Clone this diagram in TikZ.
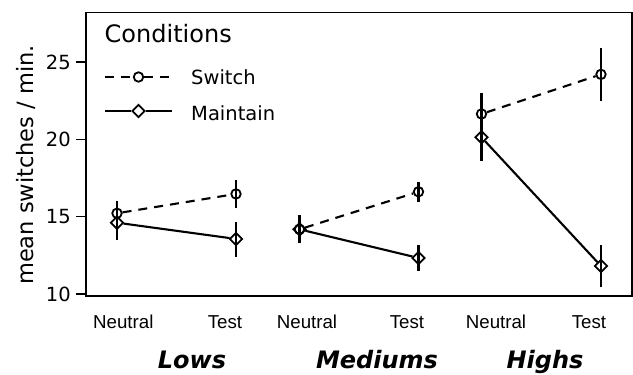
\documentclass[tikz,border=0pt]{standalone}
\usepackage{fontspec}
\usetikzlibrary{shapes.geometric}
\newfontfamily\dvsans{DejaVu Sans}
\newfontfamily\lbsans{Liberation Sans}
\tikzset{
  swmark/.style={circle,draw,line width=1.8pt,minimum size=9.5pt,inner sep=0pt},
  mtmark/.style={diamond,draw,line width=1.8pt,minimum width=13pt,minimum height=13pt,inner sep=0pt},
  errbar/.style={line width=2.3pt},
  swline/.style={line width=2.1pt,dash pattern=on 9pt off 7pt},
  mtline/.style={line width=2.1pt},
  ticklab/.style={font=\lbsans\fontsize{18.7}{20}\selectfont,anchor=base,inner sep=0pt},
  grplab/.style={font=\dvsans\bfseries\itshape\fontsize{24}{26}\selectfont,anchor=base,inner sep=0pt},
  leglab/.style={font=\dvsans\fontsize{19.5}{21}\selectfont,anchor=base west,inner sep=0pt},
}
\begin{document}
\begin{tikzpicture}[x=1pt,y=1pt]
\useasboundingbox (0,0) rectangle (633,-375);
\draw[line width=1.8pt] (86,-12.5) rectangle (632,-296);
% data scope: one unit of the y axis is 15.467pt
\begin{scope}[yshift=-448.67pt,y=15.467pt]
\foreach \v in {10,15,20,25}{
  \draw[line width=1.4pt] (76,\v) -- (86,\v);
  \node[font=\dvsans\fontsize{19.5}{21}\selectfont,anchor=east,inner sep=0pt] (tick\v) at (71,\v) {\v};
}
\node[swmark] (swLN) at (117,15.22) {};
\node[mtmark] (mtLN) at (117,14.61) {};
\node[swmark] (swLT) at (236,16.47) {};
\node[mtmark] (mtLT) at (236,13.56) {};
\node[swmark] (swMN) at (299.5,14.18) {};
\node[mtmark] (mtMN) at (299.5,14.18) {};
\node[swmark] (swMT) at (418.5,16.61) {};
\node[mtmark] (mtMT) at (418.5,12.33) {};
\node[swmark] (swHN) at (481.5,21.64) {};
\node[mtmark] (mtHN) at (481.5,20.13) {};
\node[swmark] (swHT) at (601,24.2) {};
\node[mtmark] (mtHT) at (601,11.81) {};
\draw[swline] (swLN) -- (swLT);
\draw[mtline] (mtLN) -- (mtLT);
\draw[swline] (swMN) -- (swMT);
\draw[mtline] (mtMN) -- (mtMT);
\draw[swline] (swHN) -- (swHT);
\draw[mtline] (mtHN) -- (mtHT);
\foreach \x/\lo/\hi in {117/14.43/16.01,117/13.49/15.73,236/15.57/17.37,236/12.41/14.67,
    299.5/13.28/15.11,418.5/15.96/17.26,418.5/11.5/13.17,
    481.5/20.27/23.01,481.5/18.62/21.64,601/22.48/25.89,601/10.43/13.17}
  \draw[errbar] (\x,\lo) -- (\x,\hi);
\end{scope}
% legend
\node[font=\dvsans\fontsize{24}{26}\selectfont,anchor=base west,inner sep=0pt] (cond) at (104.5,-42) {Conditions};
\coordinate (lgsa) at (105,-77);
\coordinate (lgsb) at (172,-77);
\node[swmark] (lgsw) at (138.5,-77) {};
\draw[swline] (lgsa) -- (lgsw);
\draw[swline] (lgsw) -- (lgsb);
\node[leglab] (lgswt) at (191,-84.5) {Switch};
\coordinate (lgma) at (105,-111);
\coordinate (lgmb) at (172,-111);
\node[mtmark] (lgmt) at (138.5,-111) {};
\draw[mtline] (lgma) -- (lgmt);
\draw[mtline] (lgmt) -- (lgmb);
\node[leglab] (lgmtt) at (191,-120) {Maintain};
% axis texts
\node[rotate=90,anchor=base,inner sep=0pt,font=\dvsans\fontsize{22.5}{24}\selectfont] (ylab) at (33,-165) {mean switches / min.};
\node[ticklab] (neuL) at (123.3,-328) {Neutral};
\node[ticklab] (tstL) at (225,-328) {Test};
\node[ticklab] (neuM) at (307,-328) {Neutral};
\node[ticklab] (tstM) at (407,-328) {Test};
\node[ticklab] (neuH) at (496,-328) {Neutral};
\node[ticklab] (tstH) at (589,-328) {Test};
\node[grplab] (lows) at (192,-368) {Lows};
\node[grplab] (meds) at (377,-368) {Mediums};
\node[grplab] (highs) at (545,-368) {Highs};
\end{tikzpicture}
\end{document}
